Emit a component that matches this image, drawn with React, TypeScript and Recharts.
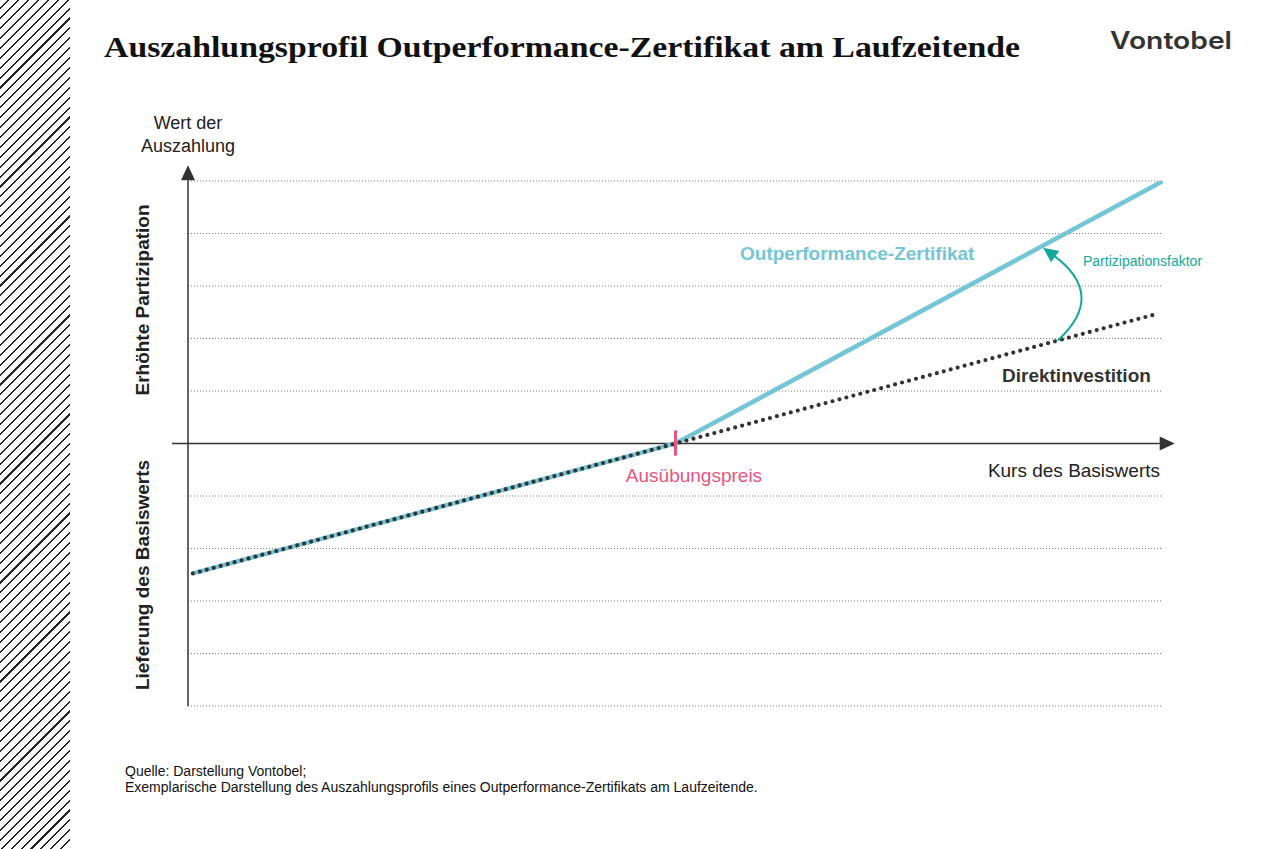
import React from 'react';
import { ComposedChart, Line, XAxis, YAxis, ReferenceLine } from 'recharts';

// Kurs des Basiswerts (0..100), Strike bei 50
const kurs = [0.5, 50, 99.2, 100];
const outperformanceWerte = [-2.475, 0, 4.92, 5];
const direktWerte: (number | null)[] = [-2.475, 0, 2.46, null];
const gridWerte = [5, 4, 3, 2, 1, -1, -2, -3, -4, -5];
const ausuebungspreis = 50;

const outperformanceData = kurs.map((x, i) => ({ x, y: outperformanceWerte[i] }));
const direktData = kurs
  .map((x, i) => ({ x, y: direktWerte[i] }))
  .filter((d) => d.y !== null);

const BLUE = '#74c5d6';
const PINK = '#e9557f';
const TEAL = '#15a89c';
const DARK = '#333333';
const SANS = '"Liberation Sans", Arial, sans-serif';

// axis line with a filled triangle at the end
const AxisArrow = (props: any) => {
  const { x1, y1, x2, y2 } = props;
  const dx = x2 - x1;
  const dy = y2 - y1;
  const len = Math.sqrt(dx * dx + dy * dy) || 1;
  const ux = dx / len;
  const uy = dy / len;
  const head = 15;
  const half = 7;
  const bx = x2 - ux * head;
  const by = y2 - uy * head;
  return (
    <g>
      <line x1={x1} y1={y1} x2={bx} y2={by} stroke={DARK} strokeWidth={1.5} />
      <polygon
        points={`${x2},${y2} ${bx - uy * half},${by + ux * half} ${bx + uy * half},${by - ux * half}`}
        fill={DARK}
      />
    </g>
  );
};

// curved arrow for the participation factor
const CurvedArrow = (props: any) => {
  const { x1, y1, x2, y2 } = props;
  const cx = (x1 + x2) / 2 + 57;
  const cy = (y1 + y2) / 2 + 1;
  const dx = x2 - cx;
  const dy = y2 - cy;
  const len = Math.sqrt(dx * dx + dy * dy) || 1;
  const ux = dx / len;
  const uy = dy / len;
  const head = 15;
  const half = 7;
  const bx = x2 - ux * head;
  const by = y2 - uy * head;
  return (
    <g>
      <path
        d={`M${x1},${y1} Q${cx},${cy} ${bx + ux * 2},${by + uy * 2}`}
        fill="none"
        stroke={TEAL}
        strokeWidth={2}
      />
      <polygon
        points={`${x2},${y2} ${bx - uy * half},${by + ux * half} ${bx + uy * half},${by - ux * half}`}
        fill={TEAL}
      />
    </g>
  );
};

const App: React.FC = () => {
  return (
    <div
      style={{
        position: 'absolute',
        left: 0,
        top: 0,
        width: 1263,
        height: 849,
        background: '#fff',
        overflow: 'hidden',
      }}
    >
      <div
        style={{
          position: 'absolute',
          left: 0,
          top: 0,
          width: 70,
          height: 849,
          background:
            'repeating-linear-gradient(135deg, #fff 0px, #fff 5.5px, #222 5.5px, #222 7px)',
        }}
      />

      <div style={{ position: 'absolute', left: 0, top: 0 }}>
        <ComposedChart
          width={1263}
          height={849}
          margin={{ top: 181, right: 100, bottom: 143, left: 188 }}
        >
          <XAxis type="number" dataKey="x" domain={[0, 100]} hide allowDataOverflow />
          <YAxis type="number" domain={[-5, 5]} hide allowDataOverflow />

          {gridWerte.map((v) => (
            <ReferenceLine
              key={v}
              y={v}
              stroke="#777"
              strokeWidth={1}
              strokeDasharray="1 2"
            />
          ))}

          <ReferenceLine
            segment={[{ x: 0, y: -5 }, { x: 0, y: 5.3 }]}
            ifOverflow="visible"
            shape={AxisArrow}
          />
          <ReferenceLine
            segment={[{ x: -1.64, y: 0 }, { x: 101.2, y: 0 }]}
            ifOverflow="visible"
            shape={AxisArrow}
          />

          <Line
            data={outperformanceData}
            dataKey="y"
            type="linear"
            stroke={BLUE}
            strokeWidth={4.5}
            dot={false}
            activeDot={false}
            isAnimationActive={false}
          />
          <Line
            data={direktData}
            dataKey="y"
            type="linear"
            stroke={DARK}
            strokeWidth={4.2}
            strokeDasharray="0 7.2"
            strokeLinecap="round"
            dot={false}
            activeDot={false}
            isAnimationActive={false}
          />

          <ReferenceLine
            segment={[{ x: ausuebungspreis, y: -0.23 }, { x: ausuebungspreis, y: 0.25 }]}
            ifOverflow="visible"
            stroke={PINK}
            strokeWidth={3}
          />

          <ReferenceLine
            segment={[{ x: 89.2, y: 1.96 }, { x: 87.7, y: 3.73 }]}
            ifOverflow="visible"
            shape={CurvedArrow}
          />
        </ComposedChart>
      </div>

      <svg
        width={1263}
        height={849}
        style={{ position: 'absolute', left: 0, top: 0, pointerEvents: 'none' }}
      >
        <text
          x={104}
          y={57}
          fontFamily='"Liberation Serif", "Times New Roman", serif'
          fontWeight="bold"
          fontSize={29}
          fill="#111"
          textLength={916}
          lengthAdjust="spacingAndGlyphs"
        >
          Auszahlungsprofil Outperformance-Zertifikat am Laufzeitende
        </text>
        <text
          x={1110}
          y={49}
          fontFamily="Inter, sans-serif"
          fontWeight={600}
          fontSize={24}
          fill="#333"
          textLength={122}
          lengthAdjust="spacingAndGlyphs"
        >
          Vontobel
        </text>

        <g fontFamily={SANS} fontSize={18} fill="#222" textAnchor="middle">
          <text x={188} y={129}>Wert der</text>
          <text x={188} y={152}>Auszahlung</text>
        </g>

        <text
          x={0}
          y={0}
          transform="translate(149,300) rotate(-90)"
          fontFamily={SANS}
          fontSize={19}
          fontWeight="bold"
          fill="#222"
          textAnchor="middle"
        >
          Erhöhte Partizipation
        </text>
        <text
          x={0}
          y={0}
          transform="translate(149,575) rotate(-90)"
          fontFamily={SANS}
          fontSize={19}
          fontWeight="bold"
          fill="#222"
          textAnchor="middle"
        >
          Lieferung des Basiswerts
        </text>

        <text x={1160} y={477} fontFamily={SANS} fontSize={19} fill="#222" textAnchor="end">
          Kurs des Basiswerts
        </text>
        <text x={694} y={482} fontFamily={SANS} fontSize={19} fill={PINK} textAnchor="middle">
          Ausübungspreis
        </text>
        <text x={740} y={260} fontFamily={SANS} fontSize={19} fontWeight="bold" fill={BLUE}>
          Outperformance-Zertifikat
        </text>
        <text x={1002} y={382} fontFamily={SANS} fontSize={19} fontWeight="bold" fill={DARK}>
          Direktinvestition
        </text>
        <text x={1083} y={266} fontFamily={SANS} fontSize={14} fill={TEAL}>
          Partizipationsfaktor
        </text>

        <g fontFamily={SANS} fontSize={14} fill="#111">
          <text x={125} y={776}>Quelle: Darstellung Vontobel;</text>
          <text x={125} y={792}>
            Exemplarische Darstellung des Auszahlungsprofils eines Outperformance-Zertifikats am Laufzeitende.
          </text>
        </g>
      </svg>
    </div>
  );
};

export default App;
